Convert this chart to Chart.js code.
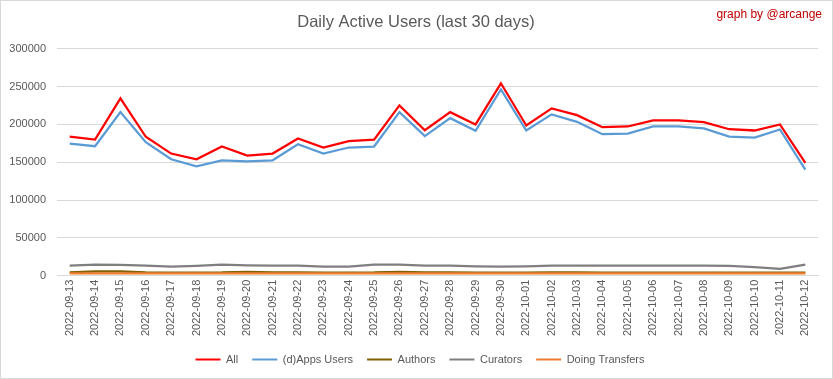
<!DOCTYPE html>
<html>
<head>
<meta charset="utf-8">
<script src="https://cdn.jsdelivr.net/npm/chart.js@4/dist/chart.umd.min.js"></script>
<style>
  html, body { margin: 0; padding: 0; background: #fff; }
  #wrap { position: relative; width: 833px; height: 379px; }
</style>
</head>
<body>
<div id="wrap"><canvas id="c" width="833" height="379"></canvas></div>
<script>
const dates = ["2022-09-13","2022-09-14","2022-09-15","2022-09-16","2022-09-17","2022-09-18","2022-09-19","2022-09-20","2022-09-21","2022-09-22","2022-09-23","2022-09-24","2022-09-25","2022-09-26","2022-09-27","2022-09-28","2022-09-29","2022-09-30","2022-10-01","2022-10-02","2022-10-03","2022-10-04","2022-10-05","2022-10-06","2022-10-07","2022-10-08","2022-10-09","2022-10-10","2022-10-11","2022-10-12"];
const allUsers = [184000,180000,234500,183700,161500,154000,170800,158800,161500,181400,169500,177800,180000,225200,192400,216300,200000,254400,198600,221200,212300,196400,197300,205300,205300,203000,193700,192000,200000,149100];
const appsUsers = [174700,171200,216300,176500,154000,144700,152600,151300,152600,173800,161500,169500,170800,216300,184500,208300,191600,246400,192000,213300,203500,187100,188000,197300,197300,194700,184000,182700,193300,140300];
const authors = [4300,5600,5600,4300,4200,4200,4300,5200,4300,4300,4200,4200,4300,5200,4300,4300,4200,4200,4200,4300,4300,4200,4200,4200,4200,4200,4200,4200,4000,4000];
const curators = [13300,14600,14200,13300,11900,12900,14600,13800,13300,13300,11900,11900,14600,14600,13300,13300,12300,11900,12300,13300,13300,13300,13300,13300,13300,13300,12900,11500,9000,14600];
const transfers = [3000,3000,3000,3000,3000,3000,3000,3000,3000,3000,3000,3000,3000,3000,3000,3000,3000,3000,3000,3000,3000,3000,3000,3000,3000,3000,3000,3000,3000,3000];
const yTicks = [0,50000,100000,150000,200000,250000,300000];

const FONT = "'Liberation Sans', Arial, sans-serif";
const txt = '#595959';

const decor = {
  id: 'decor',
  afterLayout(chart) {
    if (chart.titleBlock) { chart.titleBlock.left += 7; chart.titleBlock.right += 7; }
    if (chart.legend) { chart.legend.left += 11; chart.legend.right += 11; }
  },
  beforeDraw(chart) {
    const ctx = chart.ctx;
    ctx.save();
    ctx.fillStyle = '#ffffff';
    ctx.fillRect(0, 0, chart.width, chart.height);
    ctx.restore();
  },
  afterDraw(chart) {
    const ctx = chart.ctx;
    ctx.save();
    ctx.strokeStyle = '#d9d9d9';
    ctx.lineWidth = 1;
    ctx.strokeRect(0.5, 0.5, chart.width - 1, chart.height - 1);
    ctx.fillStyle = '#c00000';
    ctx.font = "12px " + FONT;
    ctx.textAlign = 'right';
    ctx.textBaseline = 'middle';
    ctx.fillText('graph by @arcange', 822, 15);
    ctx.restore();
  }
};

const ds = (label, data, color, order) => ({
  label, data, borderColor: color, backgroundColor: color,
  borderWidth: 2.25, pointRadius: 0, tension: 0, fill: false, order
});

new Chart(document.getElementById('c'), {
  type: 'line',
  data: {
    labels: dates,
    datasets: [
      ds('All', allUsers, '#ff0000', 5),
      ds('(d)Apps Users', appsUsers, '#5b9bd5', 4),
      ds('Authors', authors, '#806000', 3),
      ds('Curators', curators, '#7f7f7f', 2),
      ds('Doing Transfers', transfers, '#ed7d31', 1)
    ]
  },
  options: {
    responsive: false,
    animation: false,
    events: [],
    layout: { padding: { left: 0, right: 15, top: 0, bottom: 4 } },
    plugins: {
      title: {
        display: true,
        text: 'Daily Active Users (last 30 days)',
        color: txt,
        font: { family: FONT, size: 16.5, weight: 'normal' },
        padding: { top: 13, bottom: 16 }
      },
      legend: {
        position: 'bottom',
        labels: {
          color: txt,
          font: { family: FONT, size: 11 },
          boxWidth: 25,
          boxHeight: 2,
          padding: 14,
          sort: (a, b) => a.datasetIndex - b.datasetIndex,
          generateLabels(chart) {
            const items = Chart.defaults.plugins.legend.labels.generateLabels(chart);
            items.forEach(it => { it.lineWidth = 0; });
            return items;
          }
        }
      },
      tooltip: { enabled: false }
    },
    scales: {
      x: {
        offset: true,
        grid: { display: false, drawTicks: false },
        border: { display: true, color: '#d9d9d9' },
        ticks: {
          color: txt,
          font: { family: FONT, size: 11 },
          minRotation: 90, maxRotation: 90,
          autoSkip: false,
          padding: 4
        }
      },
      y: {
        min: 0, max: 300000,
        afterBuildTicks(scale) { scale.ticks = yTicks.map(v => ({ value: v })); },
        afterFit(scale) { scale.width = 57; },
        grid: { color: '#d9d9d9', drawTicks: false },
        border: { display: false },
        ticks: {
          color: txt,
          font: { family: FONT, size: 11 },
          padding: 11,
          callback: v => String(v)
        }
      }
    }
  },
  plugins: [decor]
});
</script>
</body>
</html>
